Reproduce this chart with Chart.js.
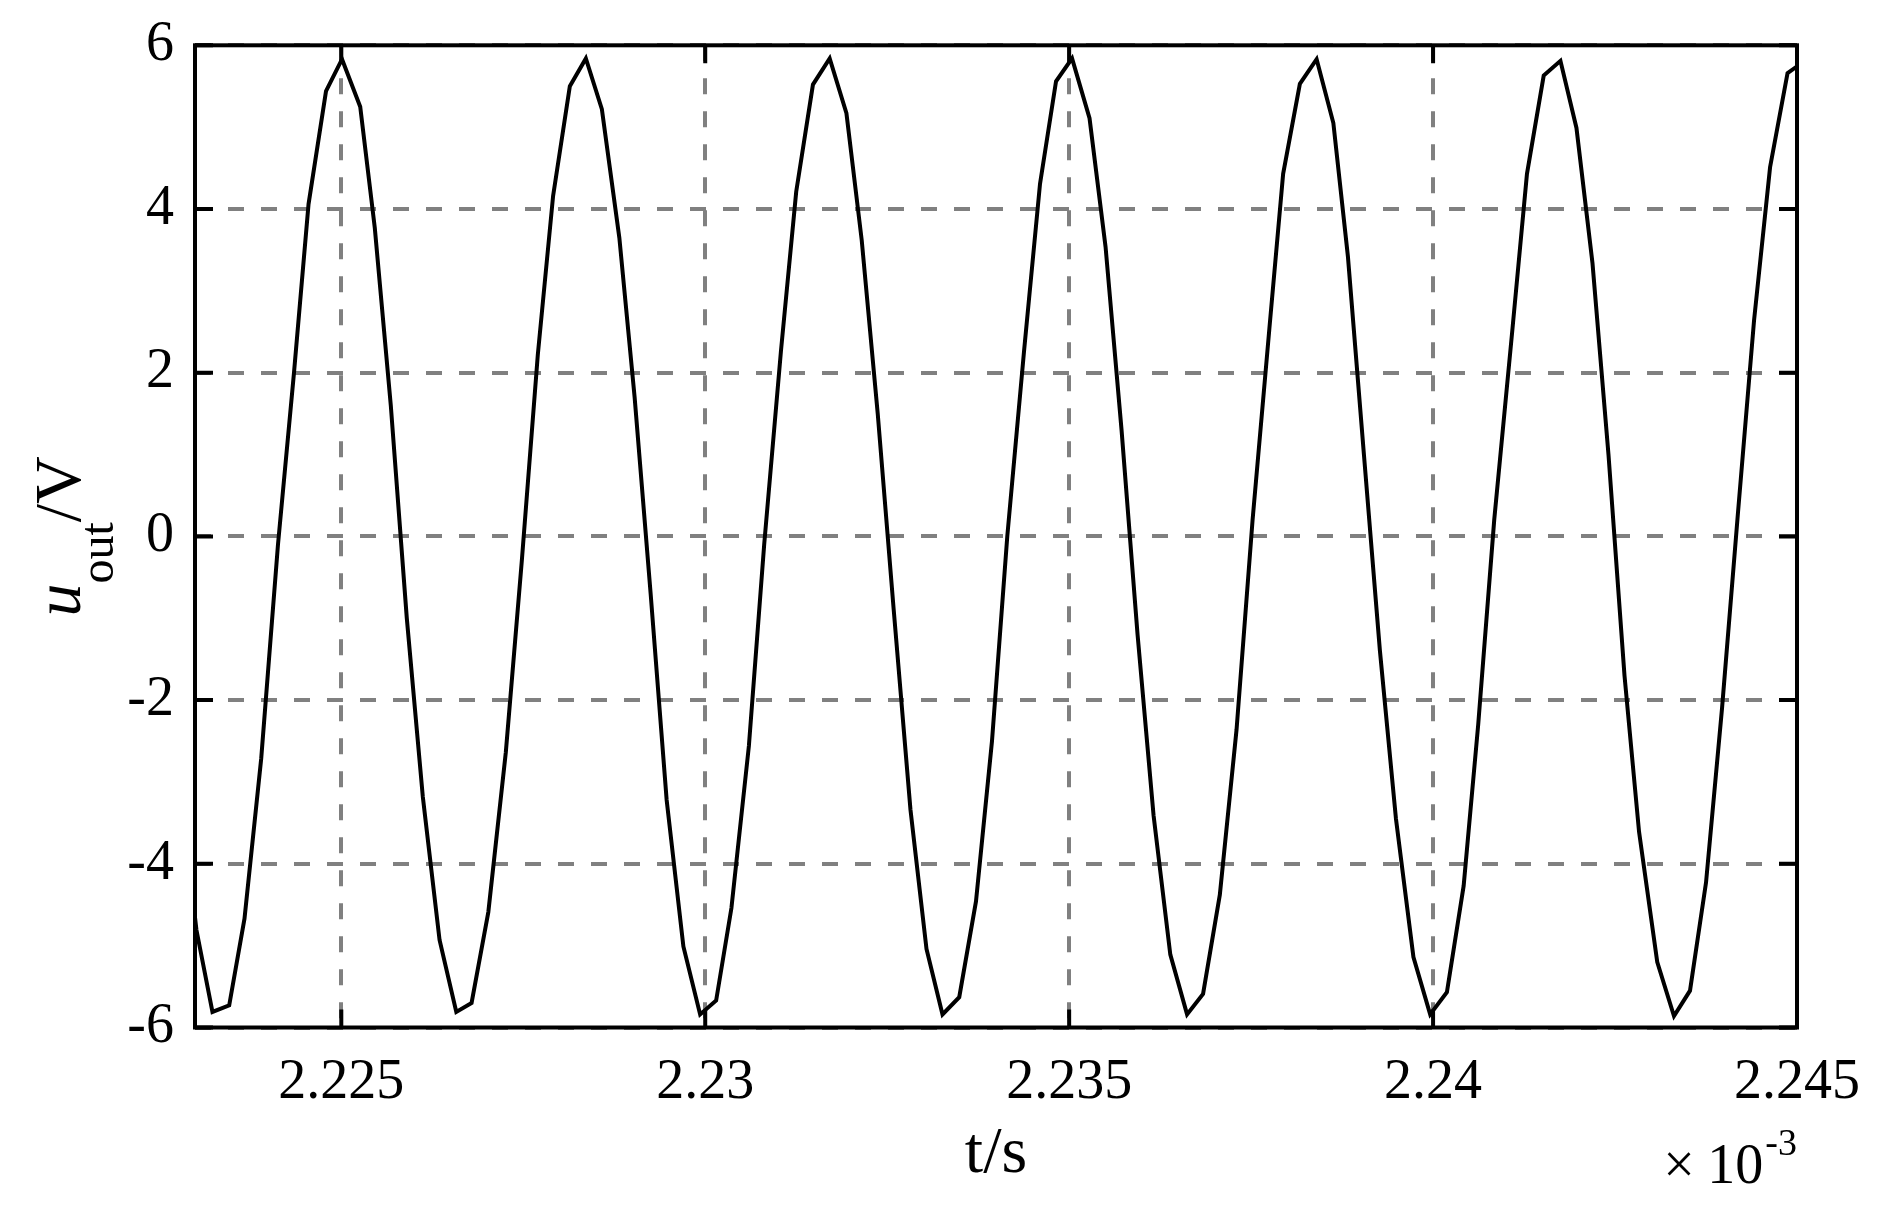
<!DOCTYPE html>
<html>
<head>
<meta charset="utf-8">
<script src="https://cdn.jsdelivr.net/npm/chart.js@4.4.1/dist/chart.umd.min.js"></script>
<style>
    html, body { margin: 0; padding: 0; background: #fff; }
    #wrap { width: 1882px; height: 1206px; position: relative; }
</style>
</head>
<body>
<div id="wrap"><canvas id="chart1"></canvas></div>
<script>
// ===== Data (t in units of 10^-3 s, u_out in V) =====
const tSamples = [
    2.22279, 2.22301, 2.22323, 2.22346, 2.22367, 2.22390, 2.22413, 2.22435, 2.22455, 2.22479,
    2.22501, 2.22526, 2.22546, 2.22568, 2.22590, 2.22612, 2.22635, 2.22658, 2.22679, 2.22702,
    2.22726, 2.22748, 2.22770, 2.22791, 2.22814, 2.22836, 2.22858, 2.22882, 2.22903, 2.22925,
    2.22947, 2.22970, 2.22993, 2.23015, 2.23036, 2.23060, 2.23081, 2.23104, 2.23125, 2.23148,
    2.23171, 2.23194, 2.23215, 2.23237, 2.23259, 2.23282, 2.23304, 2.23326, 2.23349, 2.23372,
    2.23394, 2.23415, 2.23438, 2.23460, 2.23482, 2.23504, 2.23528, 2.23550, 2.23572, 2.23594,
    2.23616, 2.23639, 2.23662, 2.23684, 2.23707, 2.23730, 2.23752, 2.23775, 2.23794, 2.23817,
    2.23840, 2.23863, 2.23883, 2.23905, 2.23927, 2.23949, 2.23973, 2.23996, 2.24019, 2.24042,
    2.24062, 2.24084, 2.24109, 2.24129, 2.24152, 2.24175, 2.24197, 2.24219, 2.24241, 2.24263,
    2.24283, 2.24308, 2.24331, 2.24353, 2.24375, 2.24397, 2.24419, 2.24441, 2.24463, 2.24487,
    2.24509
];
const uSamples = [
    -3.1, -4.81, -5.81, -5.73, -4.67, -2.71, -0.1, 2.0, 4.06, 5.44,
    5.83, 5.25, 3.77, 1.6, -1.0, -3.18, -4.93, -5.81, -5.70, -4.59,
    -2.64, -0.3, 2.22, 4.16, 5.50, 5.84, 5.22, 3.65, 1.7, -0.7,
    -3.22, -5.01, -5.84, -5.67, -4.54, -2.56, -0.1, 2.26, 4.21, 5.52,
    5.84, 5.17, 3.62, 1.5, -0.9, -3.34, -5.04, -5.84, -5.63, -4.46,
    -2.5, 0.0, 2.26, 4.31, 5.56, 5.84, 5.11, 3.54, 1.3, -1.2,
    -3.41, -5.11, -5.84, -5.59, -4.38, -2.36, 0.2, 2.53, 4.43, 5.53,
    5.83, 5.05, 3.42, 1.0, -1.4, -3.45, -5.14, -5.84, -5.57, -4.27,
    -2.3, 0.2, 2.53, 4.43, 5.63, 5.81, 4.99, 3.34, 1.0, -1.7,
    -3.61, -5.20, -5.86, -5.55, -4.23, -2.1, 0.3, 2.64, 4.51, 5.66,
    5.8
];
const xTickValues = [2.225, 2.23, 2.235, 2.24, 2.245];
const xTickLabels = ["2.225", "2.23", "2.235", "2.24", "2.245"];
const yTickValues = [-6, -4, -2, 0, 2, 4, 6];
const yTickLabels = ["-6", "-4", "-2", "0", "2", "4", "6"];
const xRange = [2.22299, 2.245];
const yRange = [-6, 6];

const SERIF = "'Liberation Serif', 'Times New Roman', serif";

// ===== Frame, inner ticks and axis titles =====
const frameAndTitles = {
    id: "frameAndTitles",
    afterDraw(chart) {
        const ctx = chart.ctx;
        const a = chart.chartArea;
        const xs = chart.scales.x;
        const ys = chart.scales.y;
        const tick = 18;

        ctx.save();
        ctx.strokeStyle = "#000";
        ctx.lineWidth = 4;
        ctx.beginPath();
        xTickValues.forEach(v => {
            const px = xs.getPixelForValue(v);
            ctx.moveTo(px, a.bottom); ctx.lineTo(px, a.bottom - tick);
            ctx.moveTo(px, a.top); ctx.lineTo(px, a.top + tick);
        });
        yTickValues.forEach(v => {
            const py = ys.getPixelForValue(v);
            ctx.moveTo(a.left, py); ctx.lineTo(a.left + tick, py);
            ctx.moveTo(a.right, py); ctx.lineTo(a.right - tick, py);
        });
        ctx.stroke();
        ctx.strokeRect(a.left, a.top, a.right - a.left, a.bottom - a.top);

        ctx.fillStyle = "#000";
        ctx.textBaseline = "alphabetic";

        // x title
        ctx.textAlign = "center";
        ctx.font = "66px " + SERIF;
        ctx.fillText("t/s", (a.left + a.right) / 2, 1172);

        // exponent note
        ctx.textAlign = "left";
        ctx.font = "38px " + SERIF;
        const wExp = ctx.measureText("-3").width;
        ctx.font = "56px " + SERIF;
        const wTen = ctx.measureText("10").width;
        const xExp = a.right - wExp;
        const xTen = xExp - 2 - wTen;
        ctx.fillText("10", xTen, 1183);
        ctx.fillText("×", xTen - 44, 1183);
        ctx.font = "38px " + SERIF;
        ctx.fillText("-3", xExp, 1155);

        // y title, rotated
        ctx.translate(80, (a.top + a.bottom) / 2);
        ctx.rotate(-Math.PI / 2);
        ctx.font = "italic 66px " + SERIF;
        const wU = ctx.measureText("u").width;
        ctx.font = "48px " + SERIF;
        const wOut = ctx.measureText("out").width;
        ctx.font = "66px " + SERIF;
        const wV = ctx.measureText("/V").width;
        let x = -(wU + wOut + wV) / 2;
        ctx.font = "italic 66px " + SERIF;
        ctx.fillText("u", x, 0);
        x += wU;
        ctx.font = "48px " + SERIF;
        ctx.fillText("out", x, 33);
        x += wOut;
        ctx.font = "66px " + SERIF;
        ctx.fillText("/V", x, 0);
        ctx.restore();
    }
};

// ===== Chart =====
const ctx1 = document.getElementById("chart1");

new Chart(ctx1, {
    type: "line",
    data: {
        datasets: [{
            data: tSamples.map((t, i) => ({ x: t, y: uSamples[i] })),
            borderColor: "#000",
            borderWidth: 4,
            pointRadius: 0,
            tension: 0,
            fill: false,
            clip: 0
        }]
    },
    options: {
        responsive: true,
        maintainAspectRatio: false,
        animation: false,
        layout: { padding: { left: 0, top: 45.3, right: 85, bottom: 0 } },
        plugins: {
            legend: { display: false },
            tooltip: { enabled: false }
        },
        scales: {
            x: {
                type: "linear",
                min: xRange[0],
                max: xRange[1],
                afterBuildTicks: s => { s.ticks = xTickValues.map(v => ({ value: v })); },
                afterFit: s => { s.height = 1206 - 1027.5; },
                ticks: {
                    autoSkip: false,
                    maxRotation: 0,
                    padding: 22,
                    color: "#000",
                    font: { family: SERIF, size: 56 },
                    callback: (v, i) => xTickLabels[i]
                },
                grid: { color: "#808080", lineWidth: 4, drawTicks: false },
                border: { display: false, dash: [16, 17] }
            },
            y: {
                type: "linear",
                min: yRange[0],
                max: yRange[1],
                afterBuildTicks: s => { s.ticks = yTickValues.map(v => ({ value: v })); },
                afterFit: s => { s.width = 195; },
                ticks: {
                    autoSkip: false,
                    padding: 21,
                    color: "#000",
                    font: { family: SERIF, size: 56, lineHeight: 0.8 },
                    callback: (v, i) => yTickLabels[i]
                },
                grid: { color: "#808080", lineWidth: 4, drawTicks: false },
                border: { display: false, dash: [16, 17] }
            }
        }
    },
    plugins: [frameAndTitles]
});
</script>
</body>
</html>
